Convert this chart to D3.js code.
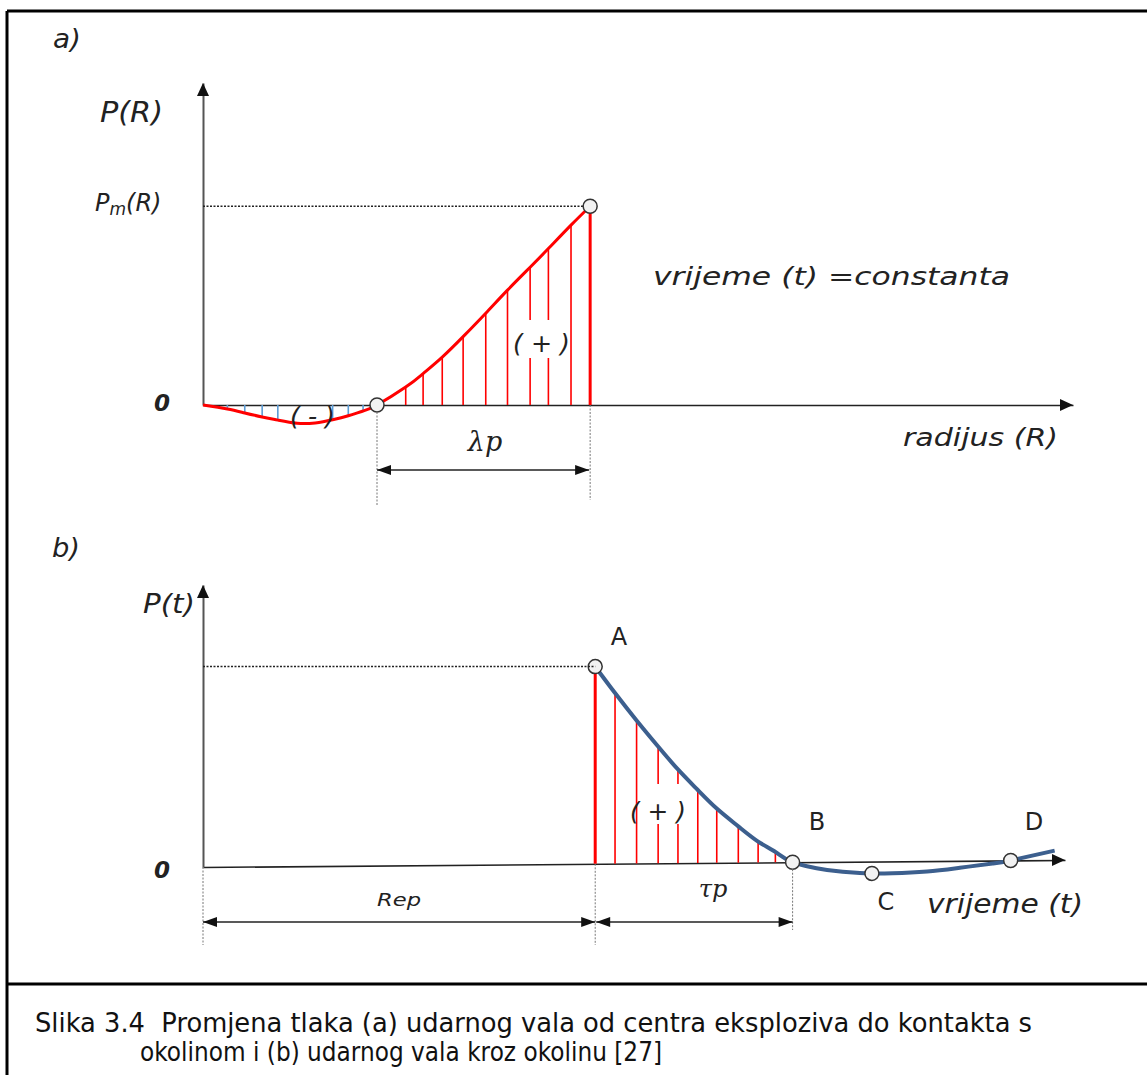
<!DOCTYPE html>
<html><head><meta charset="utf-8">
<script src="https://cdn.jsdelivr.net/npm/d3@7"></script>
<style>body{margin:0;background:#fff}svg{display:block}</style>
</head><body>
<script>
// ---------- Panel a : pressure vs radius at constant time (Pm = 1) ----------
const radiusA   = [0, 2.8, 4.8, 6.8, 8.6, 10.8, 12.9, 14.9, 16.7, 18.4, 20.0, 23.3, 25.3, 27.5, 29.9, 32.5, 35.0, 37.6, 39.7, 42.3, 44.5];
const pressureA = [0, -0.020, -0.040, -0.060, -0.076, -0.092, -0.090, -0.074, -0.054, -0.030, 0, 0.090, 0.158, 0.241, 0.344, 0.462, 0.578, 0.693, 0.787, 0.905, 1.0];
const hatchA    = [0, 1, 1, 1, 1, 0, 0, 1, 1, 1, 0, 1, 1, 1, 1, 1, 1, 1, 1, 1, 0];
const zeroA = 20.0, peakA = 44.5;

// ---------- Panel b : pressure vs time ----------
const timeB     = [45.5, 47.8, 50.3, 52.8, 55.1, 57.4, 59.6, 62.1, 64.4, 66.4, 68.4, 72.4, 76.2, 77.6, 80.0, 84.0, 87.8, 91.6, 93.7, 98.8];
const pressureB = [1.0, 0.865, 0.725, 0.592, 0.475, 0.370, 0.275, 0.184, 0.106, 0.053, 0, -0.041, -0.058, -0.060, -0.060, -0.053, -0.035, -0.015, 0, 0.048];
const hatchB    = [0, 1, 1, 1, 1, 1, 1, 1, 1, 1, 0, 0, 0, 0, 0, 0, 0, 0, 0, 0];
const pointsB   = [{name:"A", t:45.5, P:1.0}, {name:"B", t:68.4, P:0}, {name:"C", t:77.6, P:-0.060}, {name:"D", t:93.7, P:0}];

const captionLines = ["Slika 3.4  Promjena tlaka (a) udarnog vala od centra eksploziva do kontakta s",
                      "okolinom i (b) udarnog vala kroz okolinu [27]"];

const W = 1147, H = 1075;
const F = "DejaVu Sans";
const RED = "#ff0000", BLUE = "#5b9bd5", NAVY = "#3c5f8e";
const svg = d3.select("body").append("svg").attr("width", W).attr("height", H);

// frame
const frame = svg.append("g").attr("stroke", "#000").attr("stroke-width", 3);
frame.append("line").attr("x1", 7).attr("y1", 11).attr("x2", W).attr("y2", 11);
frame.append("line").attr("x1", 7).attr("y1", 11).attr("x2", 7).attr("y2", H);
frame.append("line").attr("x1", 7).attr("y1", 984).attr("x2", W).attr("y2", 984);

function head(g, x, y, dir, len = 13, half = 6) {
  let pts;
  if (dir === "up") pts = [[x, y], [x - half, y + len], [x + half, y + len]];
  else if (dir === "right") pts = [[x, y], [x - len, y - half], [x - len, y + half]];
  else pts = [[x, y], [x + len, y - half], [x + len, y + half]];
  g.append("path").attr("d", "M" + pts.join("L") + "Z").attr("fill", "#111");
}
function dim(g, x1, x2, y) {
  g.append("line").attr("x1", x1).attr("x2", x2).attr("y1", y).attr("y2", y)
    .attr("stroke", "#222").attr("stroke-width", 1.5);
  head(g, x1, y, "left", 14, 5);
  head(g, x2, y, "right", 14, 5);
}
function vdash(g, x, y1, y2) {
  g.append("line").attr("x1", x).attr("x2", x).attr("y1", y1).attr("y2", y2)
    .attr("stroke", "#777").attr("stroke-width", 1).attr("stroke-dasharray", "2,1.5");
}
function circ(g, x, y) {
  g.append("circle").attr("cx", x).attr("cy", y).attr("r", 7)
    .attr("fill", "#f2f2f2").attr("stroke", "#333").attr("stroke-width", 1.5);
}
function label(txt, x, y, o = {}) {
  const t = svg.append("text").attr("x", x).attr("y", y)
    .attr("font-family", o.family || F).attr("font-size", o.size || 24)
    .attr("font-style", o.style || "normal").attr("font-weight", o.weight || "normal")
    .attr("fill", o.fill || "#222").attr("text-anchor", o.anchor || "start")
    .style("white-space", "pre").text(txt);
  if (o.len) t.attr("textLength", o.len).attr("lengthAdjust", "spacingAndGlyphs");
  return t;
}

// ================= Panel a =================
const xA = d3.scaleLinear().domain([0, 100]).range([203, 1073]);
const yA = d3.scaleLinear().domain([0, 1.62]).range([405, 83]);
const gA = svg.append("g");

gA.append("g").attr("transform", `translate(0,${yA(0)})`)
  .call(d3.axisBottom(xA).tickValues([]).tickSizeOuter(0))
  .call(g => g.select(".domain").attr("stroke", "#222").attr("stroke-width", 1.6));
gA.append("g").attr("transform", `translate(${xA(0)},0)`)
  .call(d3.axisLeft(yA).tickValues([]).tickSizeOuter(0))
  .call(g => g.select(".domain").attr("stroke", "#555").attr("stroke-width", 2));
head(gA, xA(0), yA.range()[1], "up");
head(gA, xA.range()[1], yA(0), "right");

// dotted Pm line
gA.append("line").attr("x1", xA(0)).attr("x2", xA(peakA)).attr("y1", yA(1)).attr("y2", yA(1))
  .attr("stroke", "#222").attr("stroke-width", 1.5).attr("stroke-dasharray", "2,1.5");

// hatches
radiusA.forEach((r, i) => {
  if (!hatchA[i]) return;
  gA.append("line").attr("x1", xA(r)).attr("x2", xA(r)).attr("y1", yA(0)).attr("y2", yA(pressureA[i]))
    .attr("stroke", pressureA[i] > 0 ? RED : BLUE).attr("stroke-width", 1.6);
});
gA.append("line").attr("x1", xA(peakA)).attr("x2", xA(peakA)).attr("y1", yA(0)).attr("y2", yA(1))
  .attr("stroke", RED).attr("stroke-width", 3);
// label background
gA.append("rect").attr("x", 514).attr("y", 320).attr("width", 52).attr("height", 38).attr("fill", "#fff");

const lineA = d3.line().x((d, i) => xA(radiusA[i])).y(d => yA(d)).curve(d3.curveNatural);
gA.append("path").attr("d", lineA(pressureA)).attr("fill", "none").attr("stroke", RED).attr("stroke-width", 3);
circ(gA, xA(zeroA), yA(0));
circ(gA, xA(peakA), yA(1));

vdash(gA, xA(zeroA), yA(0) + 7, 505);
vdash(gA, xA(peakA), yA(0), 500);
dim(gA, xA(zeroA), xA(peakA) - 1, 470);

// ================= Panel b =================
const xB = d3.scaleLinear().domain([0, 100]).range([203, 1065]);
const yB = d3.scaleLinear().domain([0, 1.43]).range([867, 585]);
const tilt = 7 / 862;  // slight slope of the original time axis
const sy = (t, P) => yB(P) - tilt * (xB(t) - xB(0));
const theta = Math.atan(tilt) * 180 / Math.PI;
const gB = svg.append("g").attr("transform", `translate(0,${tilt * xB(0)}) skewY(${-theta})`);

gB.append("g").attr("transform", `translate(0,${yB(0)})`)
  .call(d3.axisBottom(xB).tickValues([]).tickSizeOuter(0))
  .call(g => g.select(".domain").attr("stroke", "#222").attr("stroke-width", 1.6));
gB.append("g").attr("transform", `translate(${xB(0)},0)`)
  .call(d3.axisLeft(yB).tickValues([]).tickSizeOuter(0))
  .call(g => g.select(".domain").attr("stroke", "#555").attr("stroke-width", 2));
head(gB, xB(0), yB.range()[1], "up");
head(gB, xB.range()[1], yB(0), "right");

const tA = pointsB[0].t, tBp = pointsB[1].t;
svg.append("line").attr("x1", xB(0)).attr("x2", xB(tA)).attr("y1", sy(tA, 1)).attr("y2", sy(tA, 1))
  .attr("stroke", "#222").attr("stroke-width", 1.5).attr("stroke-dasharray", "2,1.5");

timeB.forEach((t, i) => {
  if (!hatchB[i]) return;
  gB.append("line").attr("x1", xB(t)).attr("x2", xB(t)).attr("y1", yB(0)).attr("y2", yB(pressureB[i]))
    .attr("stroke", RED).attr("stroke-width", 1.6);
});
gB.append("line").attr("x1", xB(tA)).attr("x2", xB(tA)).attr("y1", yB(0)).attr("y2", yB(1))
  .attr("stroke", RED).attr("stroke-width", 3);
svg.append("rect").attr("x", 645).attr("y", 784).attr("width", 39).attr("height", 40).attr("fill", "#fff");

const lineB = d3.line().x((d, i) => xB(timeB[i])).y(d => yB(d)).curve(d3.curveNatural);
gB.append("path").attr("d", lineB(pressureB)).attr("fill", "none").attr("stroke", NAVY).attr("stroke-width", 4);
pointsB.forEach(p => circ(gB, xB(p.t), yB(p.P)));

vdash(svg, xB(0), yB(0), 945);
vdash(svg, xB(tA), sy(tA, 0), 945);
vdash(svg, xB(tBp), sy(tBp, 0) + 7, 930);
dim(svg, xB(0), xB(tA), 922);
dim(svg, xB(tA) + 1, xB(tBp), 922);

// ================= Texts =================
label("a)", 53, 48, {style: "italic", size: 26, len: 28});
label("P(R)", 100, 122, {style: "italic", size: 28, len: 63});
const pm = label("", 95, 211, {style: "italic", size: 24});
pm.append("tspan").text("P");
pm.append("tspan").attr("font-size", 17).attr("dy", 4).text("m");
pm.append("tspan").attr("dy", -4).text("(R)");
label("0", 162, 411, {style: "italic", weight: "bold", size: 23, anchor: "middle"});
label("( - )", 290, 425, {style: "italic", size: 25, len: 45});
label("( + )", 513, 352, {style: "italic", size: 25, len: 57});
label("λp", 485, 451, {style: "italic", size: 27, family: "DejaVu Serif", anchor: "middle"});
label("vrijeme (t) =constanta", 653, 285, {style: "italic", size: 25, len: 357});
label("radijus (R)", 903, 446, {style: "italic", size: 25, len: 155});

label("b)", 52, 557, {style: "italic", size: 26, len: 28});
label("P(t)", 143, 613, {style: "italic", size: 27, len: 52});
label("0", 162, 878, {style: "italic", weight: "bold", size: 23, anchor: "middle"});
label("A", 619, 645, {size: 24, anchor: "middle"});
label("B", 817, 830, {size: 24, anchor: "middle"});
label("C", 886, 910, {size: 24, anchor: "middle"});
label("D", 1034, 830, {size: 24, anchor: "middle"});
label("vrijeme (t)", 927, 913, {style: "italic", size: 26, len: 156});
label("( + )", 630, 820, {style: "italic", size: 25, len: 56});
label("τp", 713, 897, {style: "italic", size: 24, family: "DejaVu Serif", anchor: "middle"});
label("Rep", 399, 906, {style: "italic", size: 18, anchor: "middle", len: 44});

label(captionLines[0], 35, 1032, {size: 26, len: 997, fill: "#111"});
label(captionLines[1], 140, 1061, {size: 26, len: 522, fill: "#111"});
</script>
</body></html>
